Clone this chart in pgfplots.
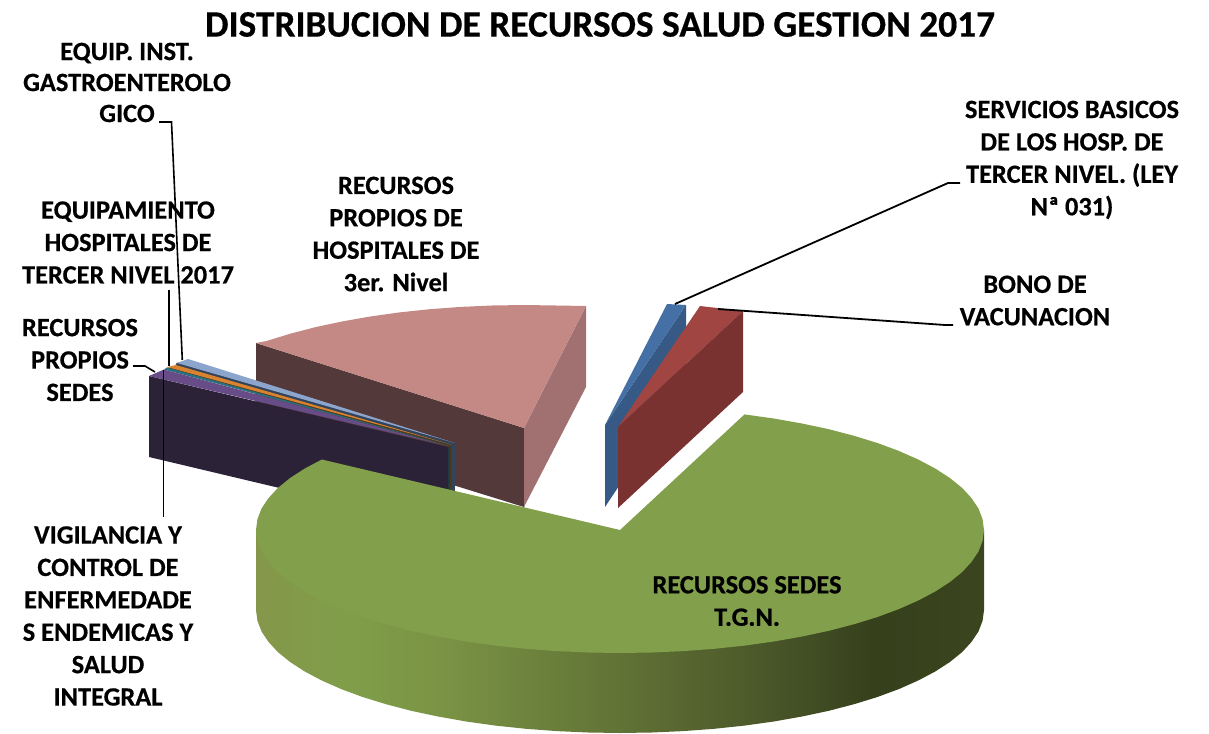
\documentclass[border=0pt]{standalone}
\usepackage{pgfplots}
\pgfplotsset{compat=1.18}
\usepackage{fontspec}
\setmainfont{Carlito}[BoldFeatures={FakeBold=0.5}]
\definecolor{gtop}{HTML}{829F4C}
\definecolor{pinktop}{HTML}{C48885}
\definecolor{pinkl}{HTML}{53393A}
\definecolor{pinkr}{HTML}{A07170}
\definecolor{bluetop}{HTML}{4570A5}
\definecolor{blueside}{HTML}{365A85}
\definecolor{redtop}{HTML}{A04542}
\definecolor{redside}{HTML}{7A3231}
\definecolor{purtop}{HTML}{674C87}
\definecolor{purside}{HTML}{2C2238}
\definecolor{tealtop}{HTML}{2A7180}
\definecolor{oratop}{HTML}{D9822F}
\definecolor{lbtop}{HTML}{8BA5CC}
\definecolor{lbside}{HTML}{33435A}
\definecolor{tealside}{HTML}{1C3D42}
\definecolor{oraside}{HTML}{4A3A22}
\pgfdeclarehorizontalshading{gside}{100bp}{
rgb(0bp)=(0.52,0.59,0.29);
rgb(25bp)=(0.52,0.59,0.29);
rgb(31.5bp)=(0.50,0.62,0.29);
rgb(37.5bp)=(0.48,0.58,0.27);
rgb(50bp)=(0.38,0.45,0.21);
rgb(60bp)=(0.29,0.34,0.16);
rgb(67.5bp)=(0.21,0.25,0.11);
rgb(75bp)=(0.23,0.27,0.12);
rgb(100bp)=(0.23,0.27,0.12)}
\tikzset{lab/.style={font=\bfseries\fontsize{26.4}{32.4}\selectfont, align=center, anchor=center, text=black, inner sep=0pt}}
\begin{document}
\begin{tikzpicture}
\path[use as bounding box] (0,0) rectangle (1209pt,733pt);
\begin{axis}[
  anchor=south west, at={(0,0)},
  scale only axis, width=1209pt, height=733pt,
  xmin=0, xmax=1209, ymin=0, ymax=733, y dir=reverse,
  hide axis, clip=true,
  every axis plot/.append style={no markers, line width=0pt},
]
% recursos propios hospitales
\addplot[draw=none, fill=pinkl] coordinates {(256,343)(524,428)(524,507)(256,424)} -- cycle;
\addplot[draw=none, fill=pinkr] coordinates {(524,428)(586,306)(586,387)(524,507)} -- cycle;
\addplot[draw=none, fill=pinktop] coordinates {(524,428)(256,343)(266.6,341)(290,333.8)(315.2,327.2)(342,321.5)(370.2,316.5)(399.5,312.4)(429.8,309.2)(460.8,306.9)(492.3,305.5)(524,305)(555.7,305.5)(586,306)} -- cycle;
% small slices, right-hand faces
\addplot[draw=none, fill=lbside] coordinates {(448,443)(455,443)(455,495)(448,495)} -- cycle;
\addplot[draw=none, fill=oraside] coordinates {(448,445)(451.5,445)(451.5,495)(448,495)} -- cycle;
\addplot[draw=none, fill=tealside] coordinates {(448,446)(450.3,446)(450.3,495)(448,495)} -- cycle;
% light blue slice
\addplot[draw=none, fill=lbside] coordinates {(175,366)(177,362.5)(455,443)(450,446)} -- cycle;
\addplot[draw=none, fill=lbtop] coordinates {(177,363)(188,359)(455,443)} -- cycle;
% orange slice
\addplot[draw=none, fill=oraside] coordinates {(166,368)(176,366)(452,445)(449,447)} -- cycle;
\addplot[draw=none, fill=oratop] coordinates {(167,367)(176,365)(451,444.5)} -- cycle;
% teal slice
\addplot[draw=none, fill=tealtop] coordinates {(164,369.5)(167,367.5)(450,446)} -- cycle;
% purple slice
\addplot[draw=none, fill=purside] coordinates {(149,376)(448,447)(448,528)(149,457)} -- cycle;
\addplot[draw=none, fill=purtop] coordinates {(149,376)(164,369.5)(448,446)} -- cycle;
% blue slice
\addplot[draw=none, fill=blueside] coordinates {(605,425)(686,305)(686,385)(605,507)} -- cycle;
\addplot[draw=none, fill=bluetop] coordinates {(605,425)(667,304)(686,305)} -- cycle;
% red slice
\addplot[draw=none, fill=redtop] coordinates {(618,427)(700,306)(743,311)} -- cycle;
\addplot[draw=none, fill=redside] coordinates {(618,427)(743,311)(743,392)(618,508)} -- cycle;
% green slice, side
\addplot[draw=none, shading=gside] coordinates {(256,530)(256,610)(257.4,620.7)(261.5,631.4)(268.4,641.8)(277.9,652.1)(290.1,662)(304.8,671.5)(321.8,680.5)(341.2,689.1)(362.6,697)(386,704.2)(411.2,710.8)(438,716.5)(466.2,721.5)(495.5,725.6)(525.8,728.8)(556.8,731.1)(588.3,732.5)(620,733)(651.7,732.5)(683.2,731.1)(714.2,728.8)(744.5,725.6)(773.8,721.5)(802,716.5)(828.8,710.8)(854,704.2)(877.4,697)(898.8,689.1)(918.2,680.5)(935.2,671.5)(949.9,662)(962.1,652.1)(971.6,641.8)(978.5,631.4)(982.6,620.7)(984,610)(984,530)} -- cycle;
% green slice, top
\addplot[draw=none, fill=gtop] coordinates {(620,530)(744.5,414.4)(773.8,418.5)(802,423.5)(828.8,429.2)(854,435.8)(877.4,443)(898.8,450.9)(918.2,459.5)(935.2,468.5)(949.9,478)(962.1,487.9)(971.6,498.2)(978.5,508.6)(982.6,519.3)(984,530)(982.6,540.7)(978.5,551.4)(971.6,561.8)(962.1,572.1)(949.9,582)(935.2,591.5)(918.2,600.5)(898.8,609.1)(877.4,617)(854,624.2)(828.8,630.8)(802,636.5)(773.8,641.5)(744.5,645.6)(714.2,648.8)(683.2,651.1)(651.7,652.5)(620,653)(588.3,652.5)(556.8,651.1)(525.8,648.8)(495.5,645.6)(466.2,641.5)(438,636.5)(411.2,630.8)(386,624.2)(362.6,617)(341.2,609.1)(321.8,600.5)(304.8,591.5)(290.1,582)(277.9,572.1)(268.4,561.8)(261.5,551.4)(257.4,540.7)(256,530)(257.4,519.3)(261.5,508.6)(268.4,498.2)(277.9,487.9)(290.1,478)(304.8,468.5)(321.8,459.5)} -- cycle;
% leader lines
\addplot[black, line width=1.8pt] coordinates {(675,304)(948,183)(960,183)};
\addplot[black, line width=1.8pt] coordinates {(718,309)(945,325)(953,325)};
\addplot[black, line width=1.6pt] coordinates {(159,122)(171.5,122)(182.3,360)};
\addplot[black, line width=1.6pt] coordinates {(169,290)(169,366)};
\addplot[black, line width=1.6pt] coordinates {(163.5,370)(163.5,517)};
\addplot[black, line width=1.6pt] coordinates {(133,366)(145,366)(155,372)};
% labels
\node[lab, font=\bfseries\fontsize{37.4}{40}\selectfont] at (axis cs:600,24.5) {DISTRIBUCION DE RECURSOS SALUD GESTION 2017};
\node[lab, font=\bfseries\fontsize{26.4}{31}\selectfont] at (axis cs:127,82.5) {EQUIP. INST.\\GASTROENTEROLO\\GICO};
\node[lab] at (axis cs:1072,160) {SERVICIOS BASICOS\\DE LOS HOSP. DE\\TERCER NIVEL. (LEY\\Nª 031)};
\node[lab] at (axis cs:396,234) {RECURSOS\\PROPIOS DE\\HOSPITALES DE\\3er. Nivel};
\node[lab] at (axis cs:1035,300.5) {BONO DE\\VACUNACION};
\node[lab] at (axis cs:128,242.5) {EQUIPAMIENTO\\HOSPITALES DE\\TERCER NIVEL 2017};
\node[lab] at (axis cs:80,360) {RECURSOS\\PROPIOS\\SEDES};
\node[lab] at (axis cs:108,616) {VIGILANCIA Y\\CONTROL DE\\ENFERMEDADE\\S ENDEMICAS Y\\SALUD\\INTEGRAL};
\node[lab] at (axis cs:747,601) {RECURSOS SEDES\\T.G.N.};
\end{axis}
\end{tikzpicture}
\end{document}
